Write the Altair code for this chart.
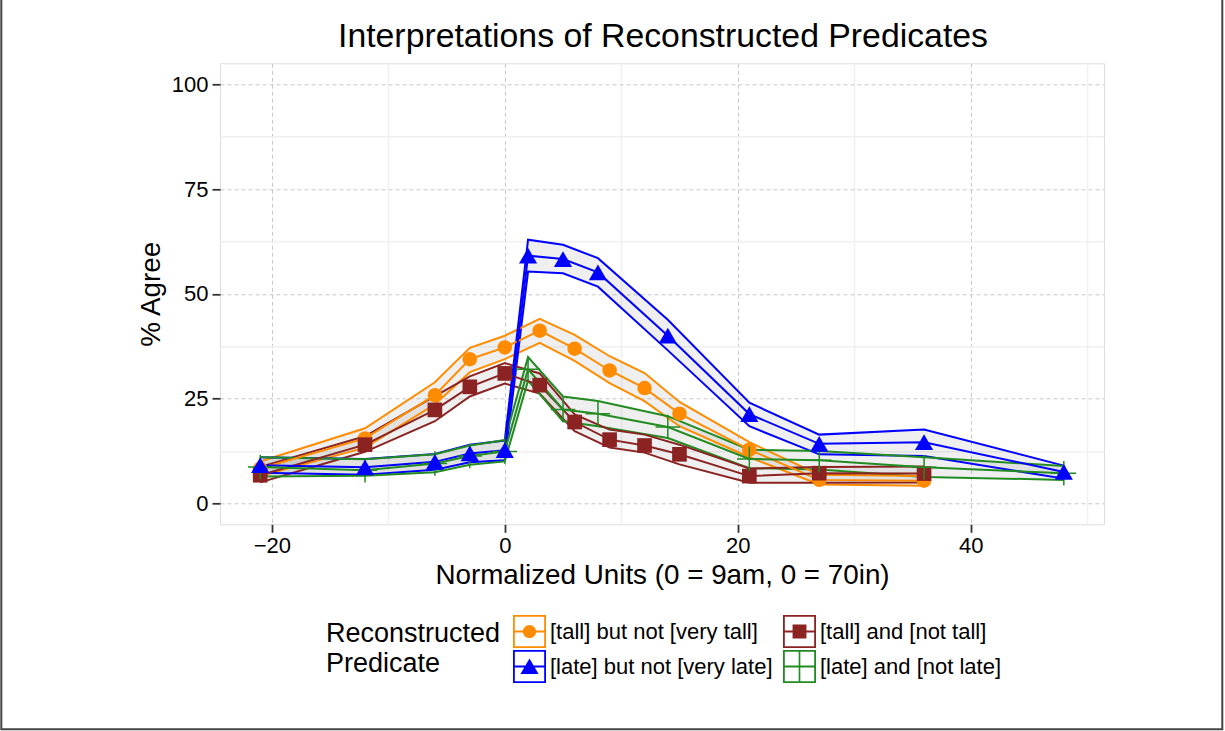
import altair as alt
import pandas as pd

# ---------------- data ----------------
series_names = [
    "[tall] but not [very tall]",
    "[tall] and [not tall]",
    "[late] but not [very late]",
    "[late] and [not late]",
]
series_colors = ["#FF8C00", "#8B2323", "#0000FF", "#228B22"]

x_tall = [-21, -12, -6, -3, 0, 3, 6, 9, 12, 15, 21, 27, 36]
x_late = [-21, -12, -6, -3, 0, 2, 5, 8, 14, 21, 27, 36, 48]

tall_vt_mean = [8.3, 15.5, 25.8, 34.4, 37.2, 41.2, 36.9, 31.7, 27.5, 21.4, 12.8, 5.6, 5.4]
tall_vt_lo = [6.5, 13.3, 23.6, 31.3, 34.4, 38.3, 34.0, 28.7, 24.4, 18.4, 11.0, 4.5, 4.2]
tall_vt_hi = [10.0, 17.9, 28.9, 37.1, 40.0, 44.0, 40.2, 35.1, 31.1, 24.2, 14.6, 6.8, 6.5]

tall_nt_mean = [6.7, 14.0, 22.3, 27.8, 31.0, 28.2, 19.4, 15.2, 13.8, 11.7, 6.5, 7.2, 7.1]
tall_nt_lo = [5.0, 12.3, 19.6, 25.5, 28.6, 26.2, 17.2, 13.3, 12.1, 9.3, 4.9, 4.9, 5.0]
tall_nt_hi = [8.7, 16.0, 25.6, 30.3, 33.5, 31.0, 21.2, 17.6, 16.4, 14.0, 8.3, 8.7, 8.8]

late_vl_mean = [9.1, 8.6, 9.9, 11.9, 12.7, 59.1, 58.3, 55.1, 40.0, 21.3, 14.2, 14.6, 7.5]
late_vl_lo = [7.3, 6.8, 8.0, 9.8, 10.3, 55.3, 54.9, 51.7, 36.5, 18.4, 11.7, 11.3, 5.9]
late_vl_hi = [11.0, 10.6, 11.8, 14.0, 15.0, 62.9, 61.7, 58.5, 43.8, 24.0, 16.4, 17.6, 9.0]

late_nl_mean = [8.7, 7.9, 9.5, 11.3, 12.4, 32.0, 22.4, 21.4, 18.2, 10.6, 10.3, 8.6, 7.2]
late_nl_lo = [6.4, 6.6, 7.4, 9.2, 10.0, 29.3, 19.6, 18.4, 15.6, 8.4, 8.1, 6.3, 5.6]
late_nl_hi = [11.0, 10.5, 11.7, 13.8, 15.1, 34.9, 25.5, 24.4, 20.8, 12.8, 12.5, 11.0, 8.9]

x_grid = [-20, -10, 0, 10, 20, 30, 40, 50]
y_grid = [0, 12.5, 25, 37.5, 50, 62.5, 75, 87.5, 100]

chart_title = ["Interpretations of Reconstructed Predicates"]

# ---------------- table ----------------
rows = []
for name, xs, m, lo, hi in [
    (series_names[0], x_tall, tall_vt_mean, tall_vt_lo, tall_vt_hi),
    (series_names[1], x_tall, tall_nt_mean, tall_nt_lo, tall_nt_hi),
    (series_names[2], x_late, late_vl_mean, late_vl_lo, late_vl_hi),
    (series_names[3], x_late, late_nl_mean, late_nl_lo, late_nl_hi),
]:
    for xv, mv, lv, hv in zip(xs, m, lo, hi):
        rows.append({"series": name, "x": xv, "mean": mv, "lo": lv, "hi": hv})
df = pd.DataFrame(rows)

FONT = "Liberation Sans"

def cond(test, a, b):
    return {"condition": {"test": test, "value": a}, "value": b}

xt = "datum.value % 20 == 0"
yt = "datum.value % 25 == 0"

x_axis = alt.Axis(
    title="Normalized Units (0 = 9am, 0 = 70in)",
    values=x_grid,
    labelExpr="datum.value % 20 == 0 ? datum.label : ''",
    tickOpacity=cond(xt, 1, 0),
    gridDash=cond(xt, [4, 3], []),
    gridColor=cond(xt, "#c8c8c8", "#f0f0f0"),
    gridWidth=cond(xt, 1, 1.5),
    domain=False,
    tickSize=8, tickWidth=1.8, tickColor="#333333",
    labelFontSize=22, labelColor="#000000", labelPadding=3, labelFont=FONT,
    titleFontSize=27.8, titleFontWeight="normal", titleColor="#000000",
    titlePadding=5, titleFont=FONT,
)
y_axis = alt.Axis(
    title="% Agree",
    values=y_grid,
    labelExpr="datum.value % 25 == 0 ? format(datum.value, 'd') : ''",
    tickOpacity=cond(yt, 1, 0),
    gridDash=cond(yt, [4, 3], []),
    gridColor=cond(yt, "#c8c8c8", "#f0f0f0"),
    gridWidth=cond(yt, 1, 1.5),
    domain=False,
    tickSize=8, tickWidth=1.8, tickColor="#333333",
    labelFontSize=22, labelColor="#000000", labelPadding=4, labelFont=FONT,
    titleFontSize=27.8, titleFontWeight="normal", titleColor="#000000",
    titlePadding=6, titleFont=FONT,
)

xs = alt.Scale(domain=[-24.45, 51.45], nice=False, zero=False)
ys = alt.Scale(domain=[-5, 105], nice=False, zero=False)
X = alt.X("x:Q", scale=xs, axis=x_axis)
# colour scale for lines/points: same mapping, listed in reverse so that its
# (disabled) legend is not merged with the legend built below
color = alt.Color(
    "series:N",
    scale=alt.Scale(domain=series_names[::-1], range=series_colors[::-1]),
    legend=None,
)

base = alt.Chart(df)
LW = 2.0

band = base.mark_area(fill="#999999", fillOpacity=0.16).encode(
    x=X, y=alt.Y("lo:Q", scale=ys, axis=y_axis), y2="hi:Q", detail="series:N"
)
lo_line = base.mark_line(strokeWidth=LW).encode(
    x=X, y=alt.Y("lo:Q", scale=ys, axis=y_axis), color=color
)
hi_line = base.mark_line(strokeWidth=LW).encode(
    x=X, y=alt.Y("hi:Q", scale=ys, axis=y_axis), color=color
)
mid_line = base.mark_line(strokeWidth=LW).encode(
    x=X, y=alt.Y("mean:Q", scale=ys, axis=y_axis), color=color
)

def pts(name, **mk):
    return base.transform_filter(alt.datum.series == name).mark_point(opacity=1, **mk).encode(
        x=X, y=alt.Y("mean:Q", scale=ys, axis=y_axis), color=color
    )

p_orange = pts(series_names[0], shape="circle", filled=True, size=210)
p_brown = pts(series_names[1], shape="square", filled=True, size=215)
p_green = pts(series_names[3], shape="M-1,0H1M0,-1V1", filled=False, size=600, strokeWidth=1.5)
p_blue = pts(series_names[2], shape="triangle-up", filled=True, size=330)

# legend keys: outlined box + line + marker, drawn as one path each
ring = "M-1,-1H1V1H-1Z M-0.89,-0.89V0.89H0.89V-0.89Z "
hline = "M-0.89,-0.06H0.89V0.06H-0.89Z "
legend_paths = [
    ring + hline + "M-0.4,0A0.4,0.4 0 1,1 0.4,0A0.4,0.4 0 1,1 -0.4,0Z",
    ring + hline + "M-0.42,-0.42H0.42V0.42H-0.42Z",
    ring + hline + "M0,-0.48L0.55,0.46H-0.55Z",
    ring + hline + "M-0.05,-0.89H0.05V0.89H-0.05Z",
]

leg = alt.Legend(
    title=["Reconstructed", "Predicate"],
    orient="none", legendX=106, legendY=551.7,
    columns=2, direction="horizontal",
    titleOrient="left", titleAnchor="middle", titleBaseline="middle",
    titleLineHeight=30, titleFontSize=27, titleFontWeight="normal", titleColor="#000000",
    titleFont=FONT, titlePadding=12, titleLimit=400,
    labelFontSize=22, labelFont=FONT, labelColor="#000000", labelLimit=500, labelOffset=4,
    columnPadding=10, rowPadding=2, symbolSize=1089, symbolStrokeWidth=0, symbolOpacity=1,
    padding=0,
)
legend_layer = base.transform_filter(alt.datum.x == -21).mark_point(filled=True, opacity=0, size=1).encode(
    x=X, y=alt.Y("mean:Q", scale=ys, axis=y_axis),
    fill=alt.Fill("series:N", scale=alt.Scale(domain=series_names, range=series_colors), legend=leg),
    shape=alt.Shape("series:N", scale=alt.Scale(domain=series_names, range=legend_paths), legend=leg),
)

frame = alt.Chart(alt.Data(values=[{"f": 1}])).mark_rect(
    fillOpacity=0, stroke="#444444", strokeWidth=2
).encode(
    x=alt.value(-218.7), x2=alt.value(1002.3), y=alt.value(-64.5), y2=alt.value(666)
)

title_layer = alt.Chart(alt.Data(values=[{"t": chart_title[0]}])).mark_text(
    fontSize=33.8, font=FONT, color="#000000", align="center", baseline="alphabetic"
).encode(text="t:N", x=alt.value(443), y=alt.value(-16.6))

chart = alt.layer(
    frame, band, lo_line, hi_line, mid_line, p_orange, p_brown, p_green, p_blue, legend_layer, title_layer
).properties(
    width=884, height=461,
    padding={"left": 220, "top": 63.3, "right": 121, "bottom": 206.7},
    autosize=alt.AutoSizeParams(type="none"),
).configure_view(
    stroke="#808080", strokeWidth=1.6
).configure(
    font=FONT, background="white"
)

chart.save("out.html", embed_options={"renderer": "svg", "actions": False})
